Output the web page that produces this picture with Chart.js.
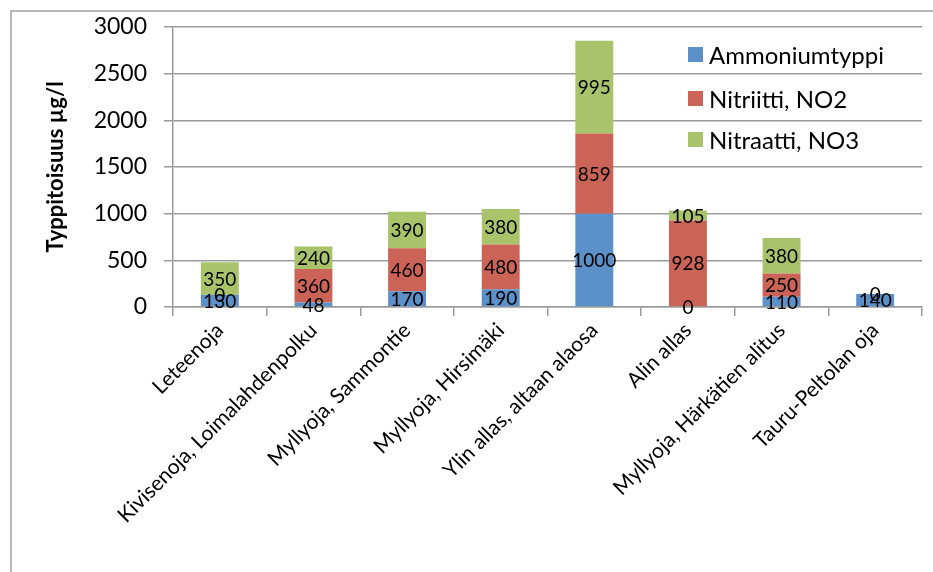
<!DOCTYPE html>
<html>
<head>
<meta charset="utf-8">
<script src="https://cdn.jsdelivr.net/npm/chart.js@4/dist/chart.umd.min.js"></script>
<style>
  html, body { margin: 0; padding: 0; background: #fff; }
  #wrap { width: 933px; height: 572px; position: relative; }
</style>
</head>
<body>
<div id="wrap"><canvas id="c" width="933" height="572"></canvas></div>
<script>
// Sampling sites along the brooks
const categories = [
  'Leteenoja',
  'Kivisenoja, Loimalahdenpolku',
  'Myllyoja, Sammontie',
  'Myllyoja, Hirsimäki',
  'Ylin allas, altaan alaosa',
  'Alin allas',
  'Myllyoja, Härkätien alitus',
  'Tauru-Peltolan oja'
];

// Nitrogen fractions, µg/l (null = not measured)
const ammoniumtyppi = [130, 48, 170, 190, 1000, 0, 110, 140];
const nitriitti     = [0, 360, 460, 480, 859, 928, 250, 0];
const nitraatti     = [350, 240, 390, 380, 995, 105, 380, null];

const yTicks = [0, 500, 1000, 1500, 2000, 2500, 3000];

const FONT = 'Lato, "Open Sans", sans-serif';
const GRID = '#9b9b9b';

// Value labels centred in each stacked segment
const segmentLabels = {
  id: 'segmentLabels',
  afterDatasetsDraw(chart) {
    const ctx = chart.ctx;
    ctx.save();
    ctx.font = '19px ' + FONT;
    ctx.fillStyle = '#000';
    ctx.textAlign = 'center';
    ctx.textBaseline = 'middle';
    chart.data.datasets.forEach((ds, di) => {
      const meta = chart.getDatasetMeta(di);
      meta.data.forEach((el, i) => {
        const v = ds.data[i];
        if (v === null || v === undefined) return;
        const { x, y, base } = el.getProps(['x', 'y', 'base'], true);
        ctx.fillText(String(v), x, (y + base) / 2 + 1);
      });
    });
    ctx.restore();
  }
};

// Legend inside the plot, upper right; frame lines round the chart
const overlay = {
  id: 'overlay',
  beforeDraw(chart) {
    const ctx = chart.ctx;
    ctx.save();
    ctx.strokeStyle = '#a0a0a0';
    ctx.lineWidth = 1.5;
    ctx.beginPath();
    ctx.moveTo(11, chart.height + 2);
    ctx.lineTo(11, 11);
    ctx.lineTo(chart.width + 2, 11);
    ctx.stroke();
    ctx.restore();
  },
  afterDraw(chart) {
    const ctx = chart.ctx;
    ctx.save();
    ctx.font = '24px ' + FONT;
    ctx.textBaseline = 'middle';
    ctx.textAlign = 'left';
    const rows = [55, 99, 140];
    chart.data.datasets.forEach((ds, i) => {
      const cy = rows[i];
      ctx.fillStyle = ds.backgroundColor;
      ctx.fillRect(688, cy - 8, 15, 15);
      ctx.fillStyle = '#000';
      ctx.fillText(ds.label, 709, cy + 1);
    });
    ctx.restore();
  }
};

new Chart(document.getElementById('c'), {
  type: 'bar',
  data: {
    labels: categories,
    datasets: [
      { label: 'Ammoniumtyppi', data: ammoniumtyppi, backgroundColor: '#5c90c8' },
      { label: 'Nitriitti, NO2', data: nitriitti, backgroundColor: '#cc6357' },
      { label: 'Nitraatti, NO3', data: nitraatti, backgroundColor: '#a8c36a' }
    ]
  },
  options: {
    responsive: false,
    animation: false,
    devicePixelRatio: 1,
    layout: { padding: { top: 27, right: 11, left: 0, bottom: 0 } },
    datasets: { bar: { categoryPercentage: 1, barPercentage: 0.405, borderWidth: 0 } },
    plugins: { legend: { display: false }, tooltip: { enabled: false } },
    scales: {
      x: {
        stacked: true,
        afterFit(s) { s.height = 265; s.paddingLeft = 0; s.paddingRight = 0; },
        border: { color: GRID, width: 1.5 },
        grid: { drawOnChartArea: false, drawTicks: true, tickLength: 9, color: GRID, lineWidth: 1.5 },
        ticks: {
          autoSkip: false, maxRotation: 45, minRotation: 45, padding: 2,
          color: '#000', font: { family: FONT, size: 21 }
        }
      },
      y: {
        stacked: true,
        min: 0, max: 3000,
        afterFit(s) { s.width = 173; s.paddingTop = 0; s.paddingBottom = 0; },
        afterBuildTicks(s) { s.ticks = yTicks.map(v => ({ value: v })); },
        border: { color: GRID, width: 1.5 },
        grid: { color: GRID, lineWidth: 1.5, tickLength: 9 },
        ticks: {
          color: '#000', padding: 17, font: { family: FONT, size: 23 },
          callback: (v) => String(v)
        },
        title: {
          display: true,
          text: 'Typpitoisuus µg/l',
          color: '#000',
          font: { family: FONT, size: 22, weight: 'bold' },
          padding: { top: 43, bottom: 0 }
        }
      }
    }
  },
  plugins: [segmentLabels, overlay]
});
</script>
</body>
</html>
